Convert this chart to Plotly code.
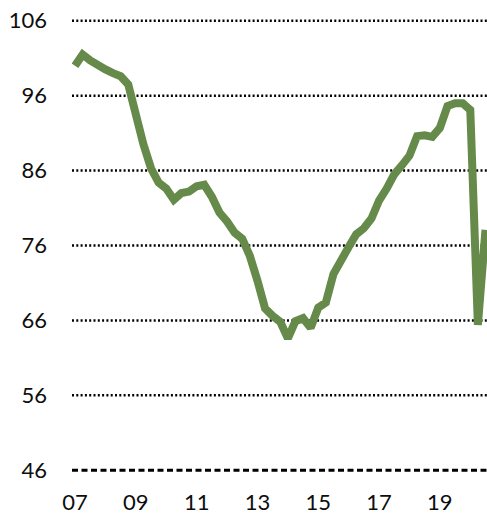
"""Quarterly index line chart, 2007 Q1 to 2020 Q3."""

import plotly.graph_objects as go

LINE_COLOR = "#658A4A"
TEXT_COLOR = "#0D0D0D"
FONT = "Lato, 'Open Sans', sans-serif"

# quarter index 0 = 2007 Q1
quarters = list(range(55))
index_values = [
    100.0, 101.5, 100.7, 100.0, 99.5, 99.0, 98.6, 97.5,
    93.3, 89.5, 86.3, 84.4, 83.6, 82.1, 83.0, 83.2,
    83.9, 84.1, 82.5, 80.4, 79.2, 77.7, 76.9, 74.6,
    71.3, 67.6, 66.6, 65.8, 63.6, 65.9, 66.3, 65.0,
    67.7, 68.4, 72.2, 74.2, 75.8, 77.5, 78.3, 79.6,
    82.0, 83.6, 85.5, 86.7, 88.0, 90.6, 90.7, 90.5,
    91.7, 94.6, 95.0, 95.0, 94.1, 65.4, 78.1,
]

x_tick_vals = [0, 8, 16, 24, 32, 40, 48]
x_tick_text = ["07", "09", "11", "13", "15", "17", "19"]
y_ticks = [46, 56, 66, 76, 86, 96, 106]

fig = go.Figure()

# horizontal guide lines: dotted, the floor one dashed
for v in y_ticks:
    floor = v == y_ticks[0]
    fig.add_shape(
        type="line", xref="paper", yref="y",
        x0=0, x1=1, y0=v, y1=v, layer="below",
        line=dict(color="black", width=3 if floor else 2.5,
                  dash="6px,3.5px" if floor else "2px,2.3px"),
    )

fig.add_trace(go.Scatter(
    x=quarters, y=index_values, mode="lines",
    line=dict(color=LINE_COLOR, width=8, shape="linear"),
    showlegend=False, hoverinfo="skip",
))

fig.update_layout(
    width=487, height=515,
    paper_bgcolor="white", plot_bgcolor="white",
    margin=dict(l=72, r=0, t=17, b=41),
    font=dict(family=FONT, size=22, color=TEXT_COLOR),
    xaxis=dict(
        range=[-0.4, 54.2], showgrid=False, zeroline=False, showline=False,
        tickmode="array", tickvals=x_tick_vals, ticktext=x_tick_text,
        ticks="", ticklabelstandoff=13,
    ),
    yaxis=dict(
        range=[45.5, 106.5], showgrid=False, zeroline=False, showline=False,
        tickmode="array", tickvals=y_ticks, ticks="", ticklabelstandoff=24,
    ),
)

fig.write_html(
    "out.html",
    config={"displayModeBar": False},
    post_script="document.body.style.margin='0';document.body.style.overflow='hidden';",
)
